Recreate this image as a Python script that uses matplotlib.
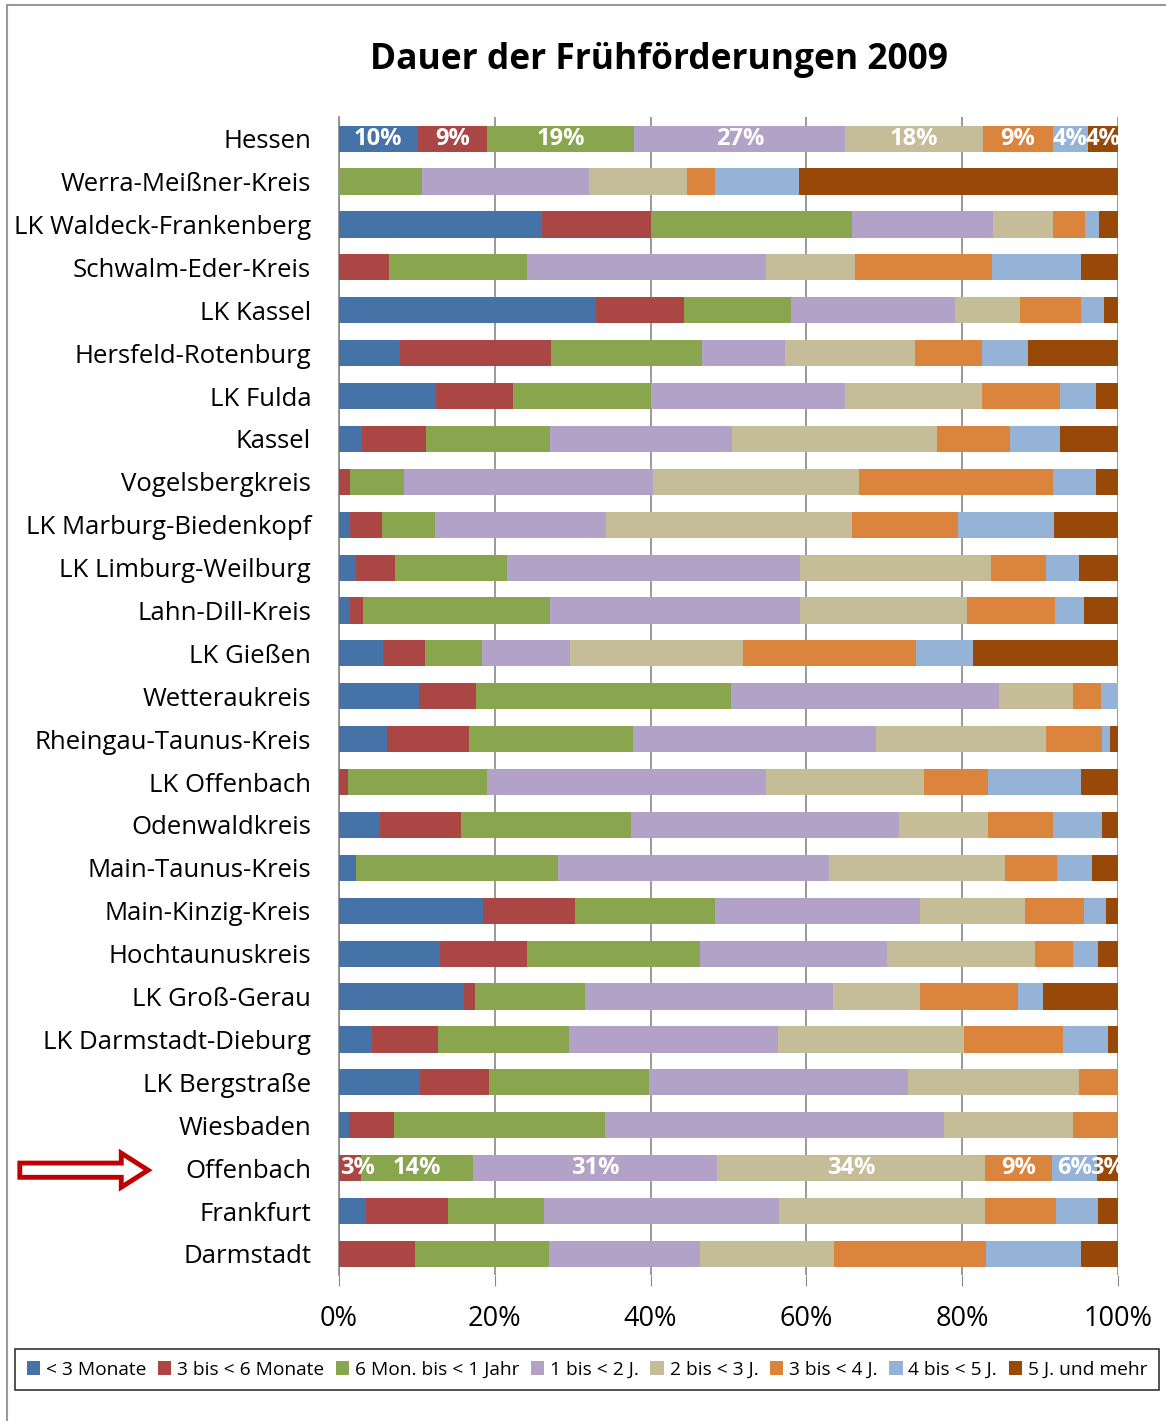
import numpy as np
import matplotlib.pyplot as plt
from matplotlib.patches import Rectangle, FancyArrow

regions = ['Hessen', 'Werra-Meißner-Kreis', 'LK Waldeck-Frankenberg', 'Schwalm-Eder-Kreis',
           'LK Kassel', 'Hersfeld-Rotenburg', 'LK Fulda', 'Kassel', 'Vogelsbergkreis',
           'LK Marburg-Biedenkopf', 'LK Limburg-Weilburg', 'Lahn-Dill-Kreis', 'LK Gießen',
           'Wetteraukreis', 'Rheingau-Taunus-Kreis', 'LK Offenbach', 'Odenwaldkreis',
           'Main-Taunus-Kreis', 'Main-Kinzig-Kreis', 'Hochtaunuskreis', 'LK Groß-Gerau',
           'LK Darmstadt-Dieburg', 'LK Bergstraße', 'Wiesbaden', 'Offenbach', 'Frankfurt',
           'Darmstadt']

categories = ['< 3 Monate', '3 bis < 6 Monate', '6 Mon. bis < 1 Jahr', '1 bis < 2 J.',
              '2 bis < 3 J.', '3 bis < 4 J.', '4 bis < 5 J.', '5 J. und mehr']

# Anteile in % je Region (Reihenfolge wie categories)
shares = [
    [10.1, 8.9, 18.9, 27.1, 17.7, 8.9, 4.5, 3.9],
    [0.0, 0.0, 10.7, 21.4, 12.6, 3.6, 10.7, 41.0],
    [26.1, 14.0, 25.7, 18.2, 7.6, 4.2, 1.8, 2.4],
    [0.0, 6.4, 17.7, 30.7, 11.4, 17.6, 11.4, 4.8],
    [33.0, 11.3, 13.7, 21.1, 8.3, 7.8, 3.0, 1.8],
    [7.8, 19.4, 19.4, 10.7, 16.6, 8.7, 5.9, 11.5],
    [12.5, 9.9, 17.7, 24.9, 17.5, 10.0, 4.7, 2.8],
    [3.0, 8.2, 15.9, 23.4, 26.3, 9.4, 6.4, 7.4],
    [0.0, 1.4, 6.9, 32.0, 26.4, 24.9, 5.6, 2.8],
    [1.4, 4.1, 6.8, 22.0, 31.6, 13.6, 12.3, 8.2],
    [2.2, 5.0, 14.4, 37.6, 24.5, 7.1, 4.2, 5.0],
    [1.4, 1.7, 24.0, 32.1, 21.4, 11.3, 3.7, 4.4],
    [5.6, 5.5, 7.3, 11.2, 22.3, 22.2, 7.3, 18.6],
    [10.3, 7.3, 32.7, 34.4, 9.5, 3.6, 2.2, 0.0],
    [6.2, 10.5, 21.1, 31.1, 21.8, 7.2, 1.1, 1.0],
    [0.0, 1.2, 17.8, 35.8, 20.3, 8.2, 11.9, 4.8],
    [5.3, 10.4, 21.8, 34.4, 11.4, 8.3, 6.3, 2.1],
    [2.2, 0.0, 25.9, 34.8, 22.6, 6.7, 4.5, 3.3],
    [18.5, 11.8, 18.0, 26.3, 13.5, 7.6, 2.8, 1.5],
    [13.0, 11.2, 22.1, 24.0, 19.0, 4.9, 3.2, 2.6],
    [16.0, 1.4, 14.2, 31.8, 11.2, 12.6, 3.2, 9.6],
    [4.2, 8.5, 16.8, 26.8, 24.0, 12.6, 5.8, 1.3],
    [10.4, 8.9, 20.5, 33.2, 22.0, 5.0, 0.0, 0.0],
    [1.3, 5.8, 27.1, 43.5, 16.5, 5.8, 0.0, 0.0],
    [0.0, 2.8, 14.4, 31.3, 34.4, 8.6, 5.8, 2.7],
    [3.5, 10.5, 12.3, 30.2, 26.4, 9.2, 5.4, 2.5],
    [0.0, 9.8, 17.1, 19.5, 17.2, 19.4, 12.2, 4.8],
]

labelled = ['Hessen', 'Offenbach']
xticks = [0, 20, 40, 60, 80, 100]

colors = ['#4572A7', '#AA4643', '#89A54E', '#B3A2C7', '#C4BD97', '#DB843D', '#95B3D7', '#984807']

plt.rcParams['font.family'] = ['Open Sans', 'DejaVu Sans']

fig = plt.figure(figsize=(11.66, 14.21), dpi=100)
ax = fig.add_axes([0.2907, 0.1025, 0.6681, 0.815])

data = np.array(shares)
y = np.arange(len(regions))
left = np.zeros(len(regions))
for j, cat in enumerate(categories):
    ax.barh(y, data[:, j], left=left, height=0.61, color=colors[j], label=cat, zorder=3)
    for i, reg in enumerate(regions):
        if reg in labelled and data[i, j] > 0:
            xpos, ha = left[i] + data[i, j] / 2, 'center'
            if left[i] == 0 and data[i, j] < 5:
                # schmales erstes Segment: Text am Balkenanfang
                xpos, ha = 0.2, 'left'
            ax.text(xpos, y[i], f'{round(data[i, j]):.0f}%',
                    ha=ha, va='center', color='white', fontsize=17,
                    fontweight='bold', family=['Liberation Sans Narrow', 'Open Sans'],
                    zorder=4)
    left += data[:, j]

ax.set_xlim(0, 100)
ax.set_ylim(len(regions) - 0.5, -0.5)
ax.set_yticks(y)
ax.set_yticklabels(regions, fontsize=18.5)
ax.tick_params(axis='y', length=0, pad=20)
ax.set_xticks(xticks)
ax.set_xticklabels([f'{t}%' for t in xticks], fontsize=19.5)
ax.tick_params(axis='x', length=8, color='#888888', pad=13)
ax.grid(axis='x', color='#888888', linewidth=1.2, zorder=0)
for s in ['top', 'right', 'bottom']:
    ax.spines[s].set_visible(False)
ax.spines['left'].set_color('#888888')
ax.spines['left'].set_linewidth(1.2)

fig.text(0.565, 0.9575, 'Dauer der Frühförderungen 2009', ha='center', va='center',
         fontsize=25.5, fontweight='bold')

leg = fig.legend(loc='center', bbox_to_anchor=(0.5035, 0.036), ncol=8, fontsize=13.8,
                 handlelength=0.7, handleheight=0.7, handletextpad=0.3, columnspacing=0.6,
                 frameon=True, fancybox=False, edgecolor='black', borderpad=0.6,
                 borderaxespad=0.2)
leg.get_frame().set_linewidth(1.2)

# Rahmen um die Grafik
fig.patches.append(Rectangle((0.006, -0.01), 1.1, 1.0065, transform=fig.transFigure,
                             fill=False, edgecolor='#999999', linewidth=1.5))

# Pfeil vor Offenbach
fig.patches.append(FancyArrow(0.017, 0.1765, 0.11, 0, width=0.010, head_width=0.024,
                              head_length=0.023, length_includes_head=True,
                              transform=fig.transFigure, facecolor='white',
                              edgecolor='#C00000', linewidth=3.5))

fig.savefig('out.png', dpi=100)
